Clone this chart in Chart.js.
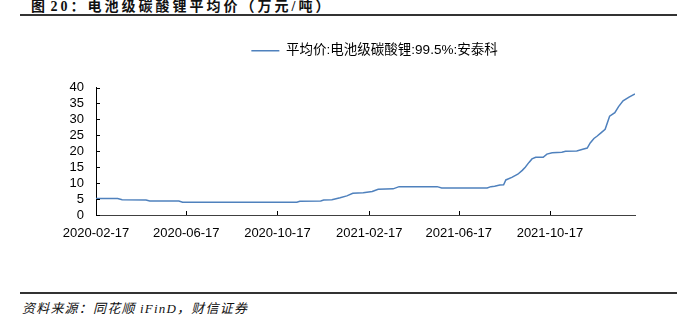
<!DOCTYPE html>
<html>
<head>
<meta charset="utf-8">
<script src="https://cdn.jsdelivr.net/npm/chart.js@4/dist/chart.umd.min.js"></script>
<style>
  html, body { margin: 0; padding: 0; background: #fff; }
  body { width: 678px; height: 316px; position: relative; overflow: hidden; }
  #title { position: absolute; left: 31px; top: -5px; font: bold 14px 'Liberation Serif', 'Noto Sans CJK SC', serif; letter-spacing: 3px; word-spacing: -4px; color: #111; white-space: nowrap; }
  .rule { position: absolute; left: 20px; width: 657px; height: 2px; background: #333; }
  #source { position: absolute; left: 22px; top: 298px; font: italic 13px 'Liberation Serif', 'Noto Sans CJK SC', serif; letter-spacing: 1.2px; color: #111; white-space: nowrap; }
  #wrap { position: absolute; left: 38px; top: 0; width: 640px; height: 248px; }
</style>
</head>
<body>
<div id="title">图 20：电池级碳酸锂平均价（万元/吨）</div>
<div class="rule" style="top:14px"></div>
<div id="wrap"><canvas id="c"></canvas></div>
<div class="rule" style="top:292px"></div>
<div id="source">资料来源：同花顺 iFinD，财信证券</div>
<script>
const seriesLabel = '平均价:电池级碳酸锂:99.5%:安泰科';
const dates = ['2020-02-17','2020-03-17','2020-03-23','2020-04-24','2020-04-29','2020-06-07','2020-06-12','2020-11-12','2020-11-16','2020-12-14','2020-12-18','2020-12-29','2021-01-09','2021-01-18','2021-01-26','2021-02-09','2021-02-21','2021-03-01','2021-03-21','2021-03-29','2021-05-19','2021-05-25','2021-07-25','2021-07-30','2021-08-04','2021-08-11','2021-08-16','2021-08-19','2021-08-27','2021-09-04','2021-09-10','2021-09-14','2021-09-19','2021-09-23','2021-09-28','2021-10-08','2021-10-13','2021-10-20','2021-11-02','2021-11-07','2021-11-22','2021-11-30','2021-12-06','2021-12-10','2021-12-15','2021-12-19','2021-12-24','2021-12-30','2022-01-05','2022-01-12','2022-01-17','2022-01-23','2022-01-31','2022-02-08'];
const prices = [5.2,5.2,4.8,4.7,4.4,4.4,4.0,4.0,4.3,4.4,4.7,4.8,5.4,6.0,6.8,7.0,7.4,8.1,8.2,8.9,8.9,8.5,8.5,8.9,9.0,9.4,9.5,11.0,11.8,12.8,14.0,15.0,16.5,17.6,18.1,18.1,19.1,19.5,19.7,20.0,20.1,20.6,21.0,22.6,24.0,24.7,25.7,26.9,31.0,32.1,34.0,35.8,37.0,38.0];
const xTickLabels = ['2020-02-17','2020-06-17','2020-10-17','2021-02-17','2021-06-17','2021-10-17'];
const yTicks = [0,5,10,15,20,25,30,35,40];

const t0 = Date.UTC(2020,1,17);
function dayOf(s){ const p = s.split('-').map(Number); return Math.round((Date.UTC(p[0],p[1]-1,p[2]) - t0)/86400000); }
const points = dates.map((d,i) => ({x: dayOf(d), y: prices[i]}));

Chart.defaults.font.family = "'Liberation Sans', 'Noto Sans CJK SC', Arial, sans-serif";
Chart.defaults.color = '#000';

const innerTicks = {
  id: 'innerTicks',
  afterDraw(chart){
    const ctx = chart.ctx, x = chart.scales.x, y = chart.scales.y, a = chart.chartArea;
    ctx.save();
    ctx.strokeStyle = '#000'; ctx.lineWidth = 1;
    x.ticks.forEach(t => { const px = Math.round(x.getPixelForValue(t.value)) + 0.5; ctx.beginPath(); ctx.moveTo(px, a.bottom); ctx.lineTo(px, a.bottom - 4); ctx.stroke(); });
    y.ticks.forEach(t => { const py = Math.round(y.getPixelForValue(t.value)) + 0.5; ctx.beginPath(); ctx.moveTo(a.left, py); ctx.lineTo(a.left + 4, py); ctx.stroke(); });
    ctx.restore();
  }
};
const legendSpace = {
  id: 'legendSpace',
  beforeInit(chart){
    const fit = chart.legend.fit;
    chart.legend.fit = function(){ fit.call(this); this.height += 20; };
  },
  afterLayout(chart){
    chart.legend.left += 38; chart.legend.right += 38;
  }
};

new Chart(document.getElementById('c'), {
  type: 'line',
  data: { datasets: [{ label: seriesLabel, data: points, borderColor: '#4F81BD', backgroundColor: '#4F81BD', borderWidth: 1.5, pointRadius: 0, tension: 0, fill: false }] },
  options: {
    responsive: true, maintainAspectRatio: false, animation: false,
    layout: { padding: { top: 34, right: 43, left: 0, bottom: 0 } },
    plugins: {
      legend: { position: 'top', labels: { usePointStyle: true, pointStyle: 'line', pointStyleWidth: 28, font: { size: 13.5 }, color: '#000', padding: 10 } },
      tooltip: { enabled: false }
    },
    scales: {
      x: {
        type: 'linear', min: 0, max: points[points.length-1].x,
        afterBuildTicks: s => { s.ticks = xTickLabels.map(d => ({ value: dayOf(d) })); },
        afterFit: s => { s.height = 33; },
        ticks: { callback: (v, i) => xTickLabels[i], autoSkip: false, maxRotation: 0, font: { size: 13 }, color: '#000', padding: 11 },
        grid: { display: false, drawTicks: false },
        border: { display: true, color: '#404040', width: 1 }
      },
      y: {
        min: 0, max: 40,
        afterBuildTicks: s => { s.ticks = yTicks.map(v => ({ value: v })); },
        afterFit: s => { s.width = 58; },
        ticks: { autoSkip: false, font: { size: 13 }, color: '#000', padding: 12 },
        grid: { display: false, drawTicks: false },
        border: { display: true, color: '#000', width: 1 }
      }
    }
  },
  plugins: [innerTicks, legendSpace]
});
</script>
</body>
</html>
